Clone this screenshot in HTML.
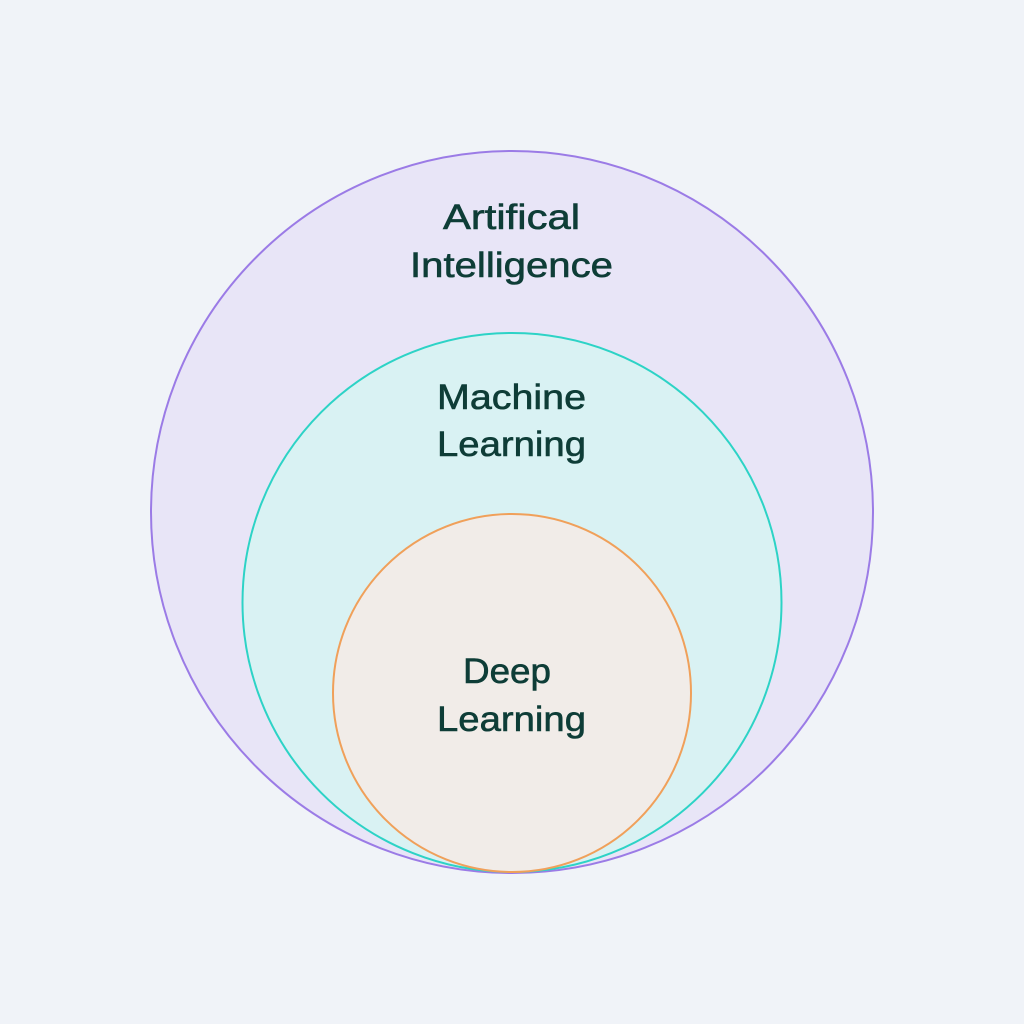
<!DOCTYPE html>
<html><head><meta charset="utf-8"><style>
html,body{margin:0;padding:0;background:#f0f3f8;}
svg{display:block;}
text{font-family:"Liberation Sans",sans-serif;font-size:35px;fill:#0e3d37;stroke:#0e3d37;stroke-width:0.6px;}
</style></head><body>
<svg width="1024" height="1024" viewBox="0 0 1024 1024" xmlns="http://www.w3.org/2000/svg">
<rect width="1024" height="1024" fill="#f0f3f8"/>
<circle cx="512" cy="512" r="361" fill="#e8e5f7" stroke="#9b7be6" stroke-width="2"/>
<circle cx="512" cy="602.5" r="269.5" fill="#d9f2f3" stroke="#2dd3c6" stroke-width="2"/>
<circle cx="512" cy="693" r="179" fill="#f1ece8" stroke="#f0a05a" stroke-width="2"/>
<text x="443" y="229" textLength="137" lengthAdjust="spacingAndGlyphs">Artifical</text>
<text x="410" y="277" textLength="203" lengthAdjust="spacingAndGlyphs">Intelligence</text>
<text x="437" y="409" textLength="149" lengthAdjust="spacingAndGlyphs">Machine</text>
<text x="437" y="456" textLength="149" lengthAdjust="spacingAndGlyphs">Learning</text>
<text x="463" y="683" textLength="88" lengthAdjust="spacingAndGlyphs">Deep</text>
<text x="437" y="731" textLength="149" lengthAdjust="spacingAndGlyphs">Learning</text>
</svg>
</body></html>
